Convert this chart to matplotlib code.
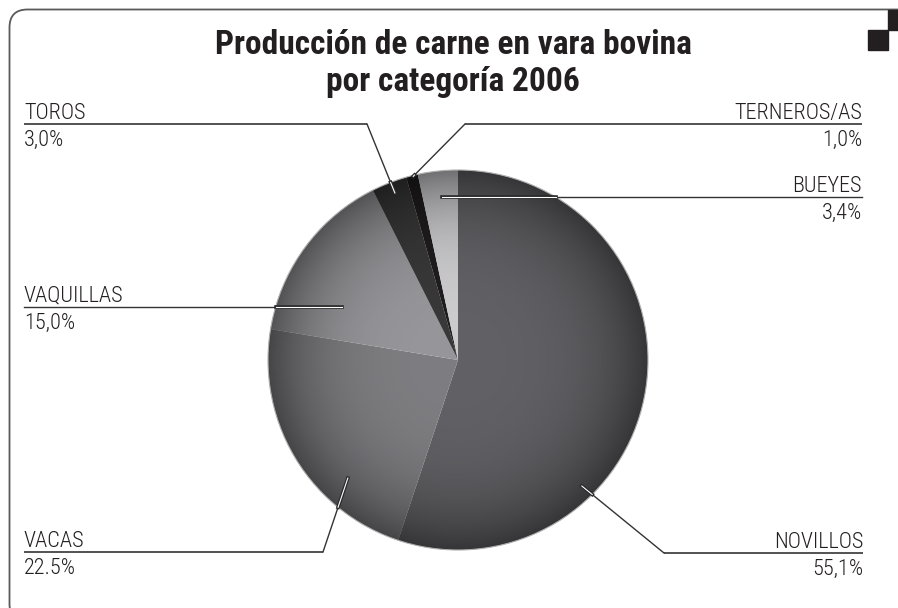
import numpy as np
import matplotlib
matplotlib.use("Agg")
import matplotlib.pyplot as plt
from matplotlib import font_manager
from matplotlib.patches import Circle, FancyBboxPatch, Rectangle
import matplotlib.patheffects as pe

# data
categorias = ['NOVILLOS', 'VACAS', 'VAQUILLAS', 'TOROS', 'TERNEROS/AS', 'BUEYES']
valores = [55.1, 22.5, 15.0, 3.0, 1.0, 3.4]
etiquetas_pct = ['55,1%', '22.5%', '15,0%', '3,0%', '1,0%', '3,4%']
colores = ['#616165', '#7d7d81', '#96969a', '#383838', '#201d1e', '#cbcbce']
titulo = 'Producción de carne en vara bovina\npor categoría 2006'

W, H = 898, 608
CX, CY, R = 458, H - 360, 190
TXT = '#231f20'

# pick a narrow font if there is one
nombres = {f.name for f in font_manager.fontManager.ttflist}
fuente = 'DejaVu Sans'
for cand in ['Roboto Condensed', 'Liberation Sans Narrow', 'Open Sans Condensed']:
    if cand in nombres:
        fuente = cand
        break
plt.rcParams['font.family'] = [fuente, 'DejaVu Sans']

fig = plt.figure(figsize=(W / 100, H / 100), dpi=100)
ax = fig.add_axes([0, 0, 1, 1])

wedges, _ = ax.pie(valores, colors=colores, startangle=90, counterclock=False,
                   center=(CX, CY), radius=R, wedgeprops=dict(linewidth=0))

# radial shading, darker towards the rim
n = 400
g = np.linspace(-1, 1, n)
xx, yy = np.meshgrid(g, g)
rr = np.sqrt(xx ** 2 + yy ** 2)
sombra = np.zeros((n, n, 4))
sombra[..., 3] = np.clip(0.45 * rr ** 3.5, 0, 0.5)
im = ax.imshow(sombra, extent=[CX - R, CX + R, CY - R, CY + R], zorder=2,
               interpolation='bilinear')
im.set_clip_path(Circle((CX, CY), R, transform=ax.transData))
ax.add_patch(Circle((CX, CY), R, fill=False, ec='#b0b0b0', lw=0.8, zorder=3))

# leader layout: anchor (angle, radius fraction), elbow in px or None, end x, side
guias = [
    ((-45.5, 0.93), (664, 553), 863, 'right'),
    ((-133.0, 0.85), (323, 552), 24, 'left'),
    ((155.2, 0.67), None, 24, 'left'),
    ((110.7, 0.94), (367, 124), 24, 'left'),
    ((103.7, 0.995), (465, 124), 862, 'right'),
    ((95.6, 0.86), None, 862, 'right'),
]


def salida(a, b):
    # point where segment a->b leaves the circle
    d = np.array(b) - np.array(a)
    f = np.array(a) - np.array([CX, CY])
    qa, qb, qc = d @ d, 2 * f @ d, f @ f - R ** 2
    t = (-qb + np.sqrt(qb * qb - 4 * qa * qc)) / (2 * qa)
    return np.array(a) + min(max(t, 0), 1) * d


for cat, pct, (anc, codo, xfin, lado) in zip(categorias, etiquetas_pct, guias):
    ang, fr = anc
    t = np.radians(ang)
    ancla = (CX + fr * R * np.cos(t), CY + fr * R * np.sin(t))
    if codo is None:
        yl = ancla[1]
        pts = [ancla, (xfin, yl)]
    else:
        yl = H - codo[1]
        pts = [ancla, (codo[0], yl), (xfin, yl)]
    xs, ys = zip(*pts)
    ax.plot(xs[1:], ys[1:], color='#444444', lw=1.3, zorder=4, solid_capstyle='butt')
    ax.plot(xs[:2], ys[:2], color='#333333', lw=1.0, zorder=4)
    p = salida(pts[0], pts[1])
    ax.plot([ancla[0], p[0]], [ancla[1], p[1]], color='white', lw=0.8, zorder=5,
            path_effects=[pe.Stroke(linewidth=2.6, foreground='#2a2a2a'), pe.Normal()])
    ha = 'left' if lado == 'left' else 'right'
    ax.text(xfin, yl + 5, cat, ha=ha, va='baseline', fontsize=16, fontweight='light',
            color=TXT, zorder=6)
    ax.text(xfin, yl - 6, pct, ha=ha, va='top', fontsize=16, fontweight='light',
            color=TXT, zorder=6)

ax.text(453, H - 29, titulo, ha='center', va='top', fontsize=24, fontweight='black',
        color=TXT, linespacing=1.2)

# frame and corner squares
ax.add_patch(FancyBboxPatch((9.5, -14), 930, H - 9.5 + 14, fill=False, ec='#5a5a5a',
                            lw=1.3, boxstyle='round,pad=0,rounding_size=18', zorder=1))
ax.add_patch(Rectangle((868, H - 50), 20, 20, color=TXT, zorder=7))
ax.add_patch(Rectangle((888, H - 30), 20, 20, color=TXT, zorder=7))

ax.set_xlim(0, W)
ax.set_ylim(0, H)
ax.set_aspect('equal')
ax.axis('off')

fig.savefig('out.png', dpi=100, facecolor='white')
